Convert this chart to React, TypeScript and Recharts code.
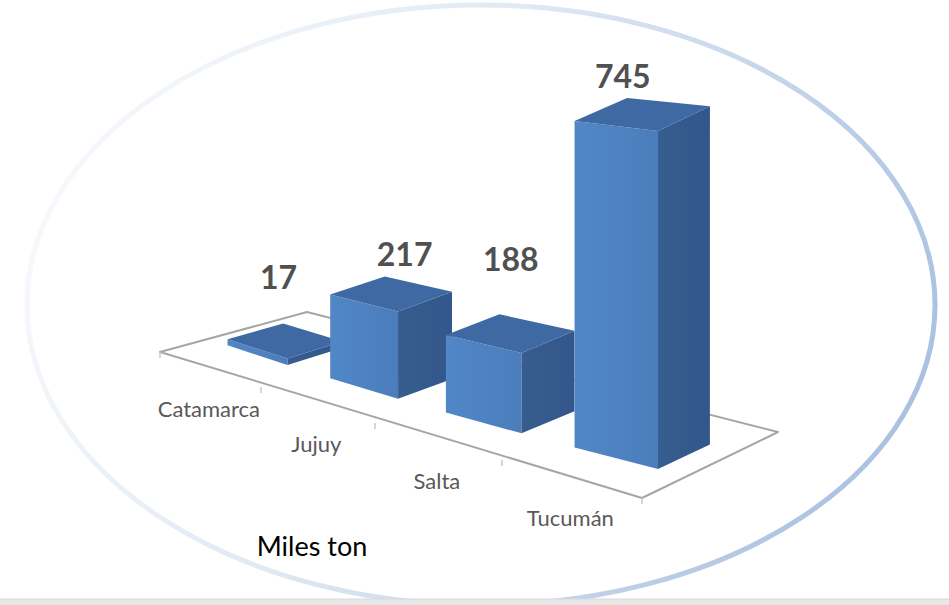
import { BarChart, Bar, XAxis, YAxis, LabelList, Customized } from 'recharts';

// producción por provincia (miles de toneladas)
const PROVINCIAS = ['Catamarca', 'Jujuy', 'Salta', 'Tucumán'];
const MILES_TON = [17, 217, 188, 745];

// pequeños ajustes de posición de las etiquetas, como en el original
const LABEL_NUDGE = [
  { dx: -6, dy: -64 },
  { dx: 14, dy: -40 },
  { dx: 1, dy: -75 },
  { dx: -19, dy: -38 },
];

const data = PROVINCIAS.map((name, i) => ({ name, value: MILES_TON[i] }));

const WIDTH = 949;
const HEIGHT = 605;
const PLOT_LEFT = 100;
const BAND = 150;
const Y_MAX = 800;
const PLOT_H = 320;
const PX_PER_UNIT = PLOT_H / Y_MAX;

// profundidad de las cajas dentro del piso
const D0 = 0.33;
const D1 = 0.71;

const FONT = 'Lato, "Open Sans", sans-serif';

// proyección oblicua con algo de perspectiva: u = posición en categorías (0..4), d = profundidad (0..1)
const front = (u: number) => ({ x: 160 + 94.5 * u + 6.5 * u * u, y: 352 + 34.5 * u + 0.5 * u * u });
const depth = (u: number) => ({ x: 147 - 2.75 * u, y: -40 - 6.5 * u });
const proj = (u: number, d: number, lift = 0) => {
  const f = front(u);
  const v = depth(u);
  return { x: f.x + d * v.x, y: f.y + d * v.y - lift };
};
const persp = (u: number) => (0.355 + 0.026 * u) / PX_PER_UNIT;
const toU = (px: number) => (px - PLOT_LEFT) / BAND;

const pts = (list: { x: number; y: number }[]) => list.map((p) => `${p.x},${p.y}`).join(' ');

function Box3D(props: any) {
  const { x, width, height } = props;
  if (!height) return null;
  const u0 = toU(x);
  const u1 = toU(x + width);
  const h0 = height * persp(u0);
  const h1 = height * persp(u1);
  const a = proj(u0, D0);
  const b = proj(u1, D0);
  const c = proj(u1, D1);
  const at = proj(u0, D0, h0);
  const bt = proj(u1, D0, h1);
  const ct = proj(u1, D1, h1);
  const dt = proj(u0, D1, h0);
  return (
    <g>
      <polygon points={pts([a, b, bt, at])} fill="url(#frontFace)" />
      <polygon points={pts([b, c, ct, bt])} fill="url(#sideFace)" />
      <polygon points={pts([at, bt, ct, dt])} fill="#3e69a3" />
    </g>
  );
}

function ValueLabel(props: any) {
  const { x, width, height, value, index } = props;
  const uc = toU(x + width / 2);
  const p = proj(uc, (D0 + D1) / 2, height * persp(uc));
  const n = LABEL_NUDGE[index] || { dx: 0, dy: -45 };
  return (
    <text
      x={p.x + n.dx}
      y={p.y + n.dy}
      textAnchor="middle"
      dominantBaseline="central"
      fontFamily={FONT}
      fontWeight={700}
      fontSize={32}
      fill="#505050"
    >
      {value}
    </text>
  );
}

function CategoryTick(props: any) {
  const { x, payload } = props;
  const f = front(toU(x));
  return (
    <text
      x={f.x}
      y={f.y + 39}
      textAnchor="middle"
      dominantBaseline="central"
      fontFamily={FONT}
      fontSize={22}
      fill="#595959"
    >
      {payload.value}
    </text>
  );
}

function Floor() {
  const n = PROVINCIAS.length;
  const corners = [proj(0, 0), proj(n, 0), proj(n, 1), proj(0, 1)];
  const ticks = Array.from({ length: n + 1 }, (_, i) => front(i));
  return (
    <g>
      <defs>
        <linearGradient id="frontFace" x1="0" y1="0" x2="1" y2="0">
          <stop offset="0%" stopColor="#5187c7" />
          <stop offset="100%" stopColor="#4b7dbb" />
        </linearGradient>
        <linearGradient id="sideFace" x1="0" y1="0" x2="1" y2="0">
          <stop offset="0%" stopColor="#375c8e" />
          <stop offset="100%" stopColor="#33578a" />
        </linearGradient>
      </defs>
      <polygon points={pts(corners)} fill="none" stroke="#a6a6a6" strokeWidth={2} strokeLinejoin="round" />
      {ticks.map((t, i) => (
        <line key={i} x1={t.x} y1={t.y} x2={t.x} y2={t.y + 6} stroke="#c8c8c8" strokeWidth={1.5} />
      ))}
      <text x={312} y={545} textAnchor="middle" dominantBaseline="central" fontFamily={FONT} fontSize={27} fill="#000">
        Miles ton
      </text>
    </g>
  );
}

export default function App() {
  return (
    <div style={{ position: 'absolute', left: 0, top: 0, width: WIDTH, height: HEIGHT, background: '#fff' }}>
      <svg width={WIDTH} height={HEIGHT} style={{ position: 'absolute', left: 0, top: 0 }}>
        <defs>
          <linearGradient id="ring" x1="0" y1="0.35" x2="1" y2="0.65">
            <stop offset="0%" stopColor="#f6f9fc" />
            <stop offset="40%" stopColor="#e0e9f4" />
            <stop offset="100%" stopColor="#a8c0e0" />
          </linearGradient>
        </defs>
        <ellipse cx={481} cy={305} rx={454} ry={300} fill="none" stroke="url(#ring)" strokeWidth={5} />
        <rect x={0} y={599} width={WIDTH} height={6} fill="#e8e8e8" />
        <line x1={0} y1={599} x2={WIDTH} y2={599} stroke="#d8d8d8" strokeWidth={1} />
      </svg>
      <div style={{ position: 'absolute', left: 0, top: 0 }}>
        <BarChart
          width={WIDTH}
          height={HEIGHT}
          data={data}
          margin={{ top: 100, right: WIDTH - PLOT_LEFT - BAND * PROVINCIAS.length, bottom: 155, left: PLOT_LEFT }}
          barCategoryGap="20%"
        >
          <Customized component={Floor} />
          <XAxis dataKey="name" axisLine={false} tickLine={false} interval={0} height={30} tick={<CategoryTick />} />
          <YAxis hide domain={[0, Y_MAX]} />
          <Bar dataKey="value" shape={<Box3D />} isAnimationActive={false}>
            <LabelList dataKey="value" content={<ValueLabel />} />
          </Bar>
        </BarChart>
      </div>
    </div>
  );
}
